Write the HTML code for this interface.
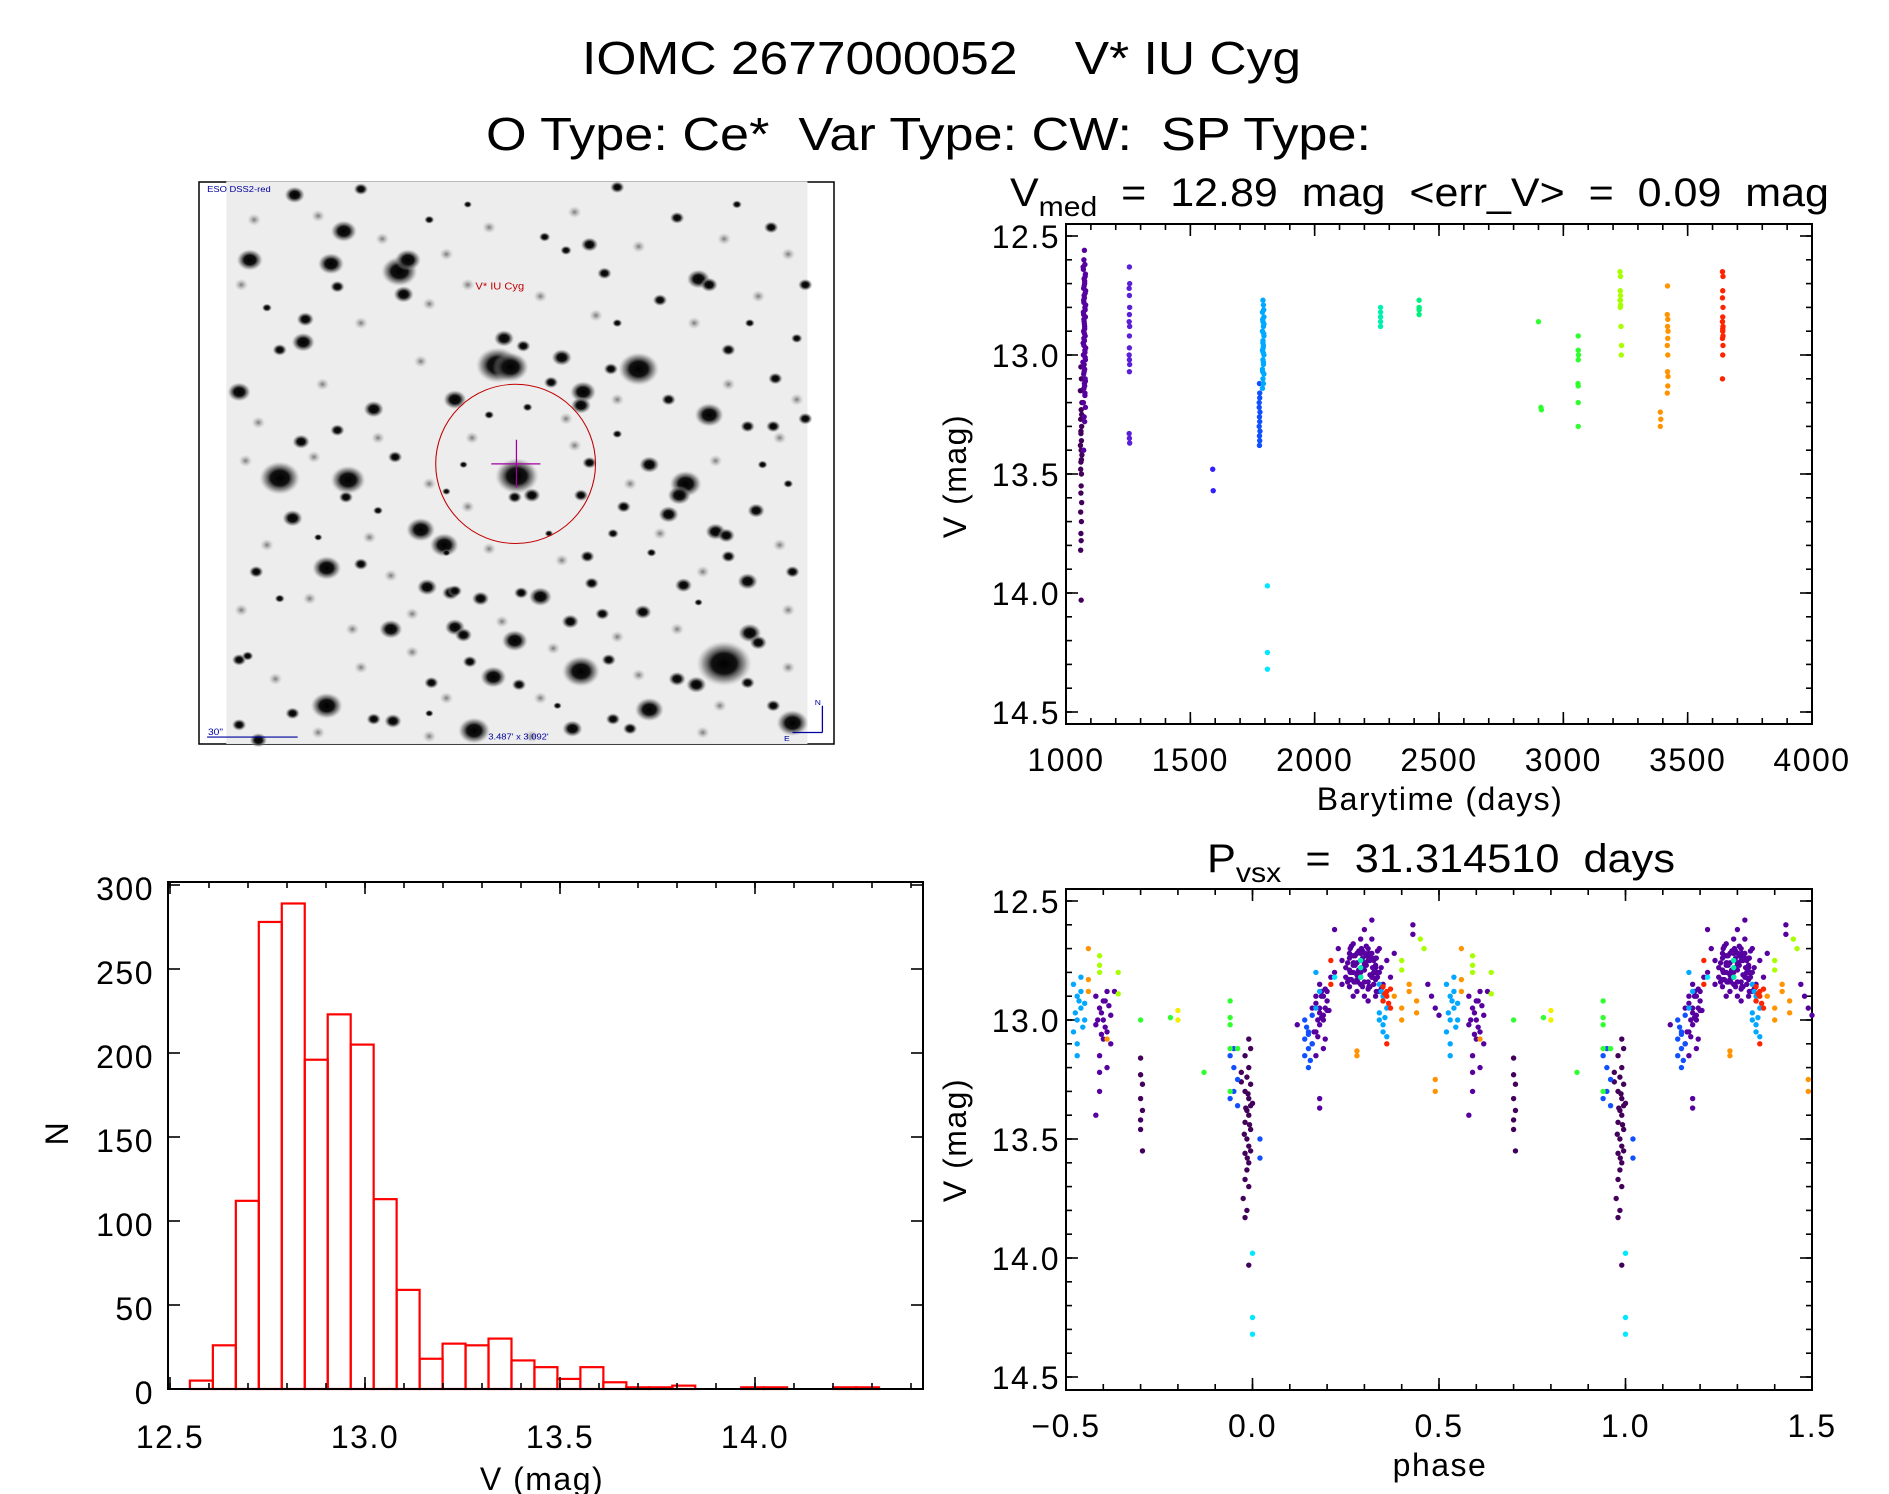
<!DOCTYPE html>
<html><head><meta charset="utf-8"><style>
html,body{margin:0;padding:0;background:#fff}
svg{display:block}
text{font-family:"Liberation Sans",sans-serif;fill:#000}
</style></head><body>
<svg id="root" width="1889" height="1494" viewBox="0 0 1889 1494" xmlns="http://www.w3.org/2000/svg">
<text x="582" y="74" font-size="46" textLength="719" lengthAdjust="spacingAndGlyphs" xml:space="preserve">IOMC 2677000052    V* IU Cyg</text>
<text x="486" y="150" font-size="46" textLength="885" lengthAdjust="spacingAndGlyphs" xml:space="preserve">O Type: Ce*  Var Type: CW:  SP Type:</text>

<g>
<rect x="199" y="182" width="635" height="562" fill="#fff" stroke="#000" stroke-width="1.5"/>
<svg x="190" y="170" width="670" height="600" viewBox="0 0 1568 1568" preserveAspectRatio="none" id="stars">
<defs><radialGradient id="sg"><stop offset="0" stop-color="#000"/><stop offset="0.45" stop-color="#111"/><stop offset="0.75" stop-color="#666" stop-opacity="0.6"/><stop offset="1" stop-color="#aaa" stop-opacity="0"/></radialGradient>
<radialGradient id="fg"><stop offset="0" stop-color="#777"/><stop offset="1" stop-color="#bbb" stop-opacity="0"/></radialGradient></defs>
<rect x="85" y="30" width="1360" height="1470" fill="#ededed"/>
<g id="faintgroup"></g>
<g id="stargroup"></g>
<ellipse cx="762" cy="768" rx="187" ry="208" fill="none" stroke="#c00000" stroke-width="2.5"/>
<line x1="705" y1="768" x2="820" y2="768" stroke="#a000a0" stroke-width="3"/>
<line x1="764" y1="705" x2="764" y2="830" stroke="#a000a0" stroke-width="3"/>
<text x="668" y="312" font-size="26" style="fill:#c00000">V* IU Cyg</text>
<text x="40" y="58" font-size="22" style="fill:#0000a0">ESO DSS2-red</text>
<text x="42" y="1476" font-size="24" style="fill:#0000a0">30"</text>
<line x1="40" y1="1482" x2="252" y2="1482" stroke="#0000a0" stroke-width="3"/>
<text x="698" y="1488" font-size="22" style="fill:#0000a0">3.487' x 3.092'</text>
<line x1="1480" y1="1400" x2="1480" y2="1470" stroke="#0000a0" stroke-width="3"/>
<line x1="1410" y1="1470" x2="1480" y2="1470" stroke="#0000a0" stroke-width="3"/>
<text x="1462" y="1398" font-size="20" style="fill:#0000a0">N</text>
<text x="1390" y="1492" font-size="20" style="fill:#0000a0">E</text>
</svg>
</g>
<g id="plots"></g>
</svg>
<script>
// ---- star field (decorative finder image) ----
const starList = [[245,65,14],[400,50,10],[1000,45,10],[360,160,18],[140,235,18],[330,245,18],[490,265,25],[510,235,18],[500,325,14],[345,305,10],[1190,285,16],[1215,300,12],[970,270,10],[935,195,12],[1140,125,10],[1360,150,10],[1100,340,10],[830,175,8],[880,210,8],[270,390,12],[265,450,16],[210,470,10],[735,440,14],[720,510,30],[750,515,25],[780,460,10],[870,490,14],[1050,520,28],[985,520,10],[1260,470,10],[115,580,16],[620,600,16],[920,580,18],[915,615,14],[430,625,14],[845,555,10],[1120,600,10],[1215,640,20],[1305,670,10],[1365,670,10],[1370,545,10],[260,710,12],[345,680,10],[210,805,28],[370,810,24],[365,855,10],[480,750,10],[765,800,30],[800,850,12],[760,855,10],[1075,770,14],[935,765,10],[1160,820,22],[1145,850,16],[1120,900,14],[1015,880,10],[915,850,10],[1325,890,12],[1230,945,14],[1255,955,12],[240,910,14],[540,940,20],[595,980,20],[320,1040,20],[400,1030,10],[155,1050,10],[1305,1075,14],[1260,1010,10],[930,1010,10],[990,950,8],[555,1090,14],[610,1105,12],[620,1100,10],[820,1115,16],[680,1120,12],[775,1105,10],[940,1080,10],[1155,1085,12],[1410,1050,10],[470,1200,16],[620,1195,14],[640,1215,12],[760,1230,18],[890,1180,12],[965,1160,10],[1060,1155,12],[1310,1210,16],[1330,1235,12],[1250,1290,38],[1185,1345,14],[1140,1330,12],[1305,1340,10],[710,1325,18],[915,1310,26],[980,1280,10],[655,1285,10],[770,1345,10],[320,1400,22],[240,1420,10],[115,1280,10],[475,1440,12],[430,1435,10],[665,1465,22],[895,1460,14],[1075,1410,20],[990,1435,10],[1410,1445,22],[1365,1400,10],[160,1490,12],[115,1450,10],[1030,1460,10],[565,1340,10],[135,1270,8],[1440,650,10],[1440,300,10],[1420,440,8],[180,360,7],[560,130,7],[650,90,6],[1280,90,7],[1310,400,7],[1400,820,7],[1340,770,7],[600,1000,6],[440,890,7],[300,960,6],[1080,1000,7],[1190,1130,6],[860,1400,6],[560,1420,6],[210,1120,7],[700,640,7],[790,620,7],[640,770,6],[1000,690,7],[600,840,6],[840,950,6],[1000,400,7]];
const faintList = [[150,130],[300,120],[450,180],[600,220],[700,150],[900,110],[1050,200],[1250,180],[1400,220],[120,300],[400,400],[560,350],[650,300],[820,330],[950,380],[1180,400],[1330,330],[160,660],[310,560],[540,500],[660,700],[880,650],[1000,600],[1260,560],[1420,600],[130,760],[290,750],[440,700],[560,820],[650,880],[900,720],[1030,820],[1230,760],[1380,700],[180,980],[420,960],[470,1060],[700,990],[870,1020],[1100,950],[1200,1050],[1380,980],[120,1150],[280,1120],[380,1200],[520,1160],[730,1180],[850,1250],[1000,1220],[1140,1200],[1400,1150],[200,1330],[400,1300],[520,1260],[600,1380],[820,1380],[1050,1320],[1240,1400],[1400,1300],[300,1470],[560,1480],[800,1480],[1200,1470]];
const sg = document.getElementById('stargroup');
const fg = document.getElementById('faintgroup');
const NS='http://www.w3.org/2000/svg';
faintList.forEach(s=>{const c=document.createElementNS(NS,'circle');c.setAttribute('cx',s[0]);c.setAttribute('cy',s[1]);c.setAttribute('r',16);c.setAttribute('fill','url(#fg)');


fg.appendChild(c);});
starList.forEach(s=>{const c=document.createElementNS(NS,'ellipse');c.setAttribute('cx',s[0]);c.setAttribute('cy',s[1]);c.setAttribute('rx',s[2]*1.7);c.setAttribute('ry',s[2]*1.55);c.setAttribute('fill','url(#sg)');


sg.appendChild(c);});

// ---- histogram data ----
const histStart = 12.551;
const histBinWidth = 0.0589;
const histCounts = [5,26,112,278,289,196,223,205,113,59,18,27,26,30,17,13,6,13,4,1,1,2,0,0,1,1,0,0,1,1];
const histXTicks = [12.5,13.0,13.5,14.0];
const histXTickLabels = ['12.5','13.0','13.5','14.0'];
const histYTicks = [0,50,100,150,200,250,300];

// ---- light curve (time) data ----
const colDarkPurple='#42005a', colPurple='#5600a0', colViolet='#5a20d8', colBlue='#1050ff', colLightBlue='#00a8ff', colCyan='#00e8ff', colTeal='#00f0b0', colGreen='#30ff30', colLime='#a8ff00', colYellow='#f0f000', colOrange='#ff9400', colRed='#ff2400';
const lcS1a_t=[1060,1062,1058,1064,1061,1059,1063,1060,1062,1058,1061,1064,1060,1059,1062,1061,1060,1063,1059,1062,1060,1061,1059,1061,1063,1060,1062];
const lcS1a_v=[13.05,13.1,13.15,13.2,13.23,13.27,13.3,13.33,13.36,13.38,13.4,13.42,13.45,13.48,13.5,13.55,13.58,13.62,13.66,13.7,13.75,13.78,13.82,14.03,13.25,13.32,13.44];
const lcS1b_t=[1074,1072,1076,1070,1078,1073,1075,1071,1077,1074,1072,1076,1070,1078,1073,1075,1071,1077,1074,1072,1076,1070,1078,1073,1075,1071,1077,1074,1072,1076,1070,1078,1073,1075,1071,1077,1074,1072,1076,1070,1078,1073,1075,1079,1068,1074,1072,1076,1069,1077,1073,1079,1071,1075,1069,1077,1073,1079,1071,1075];
const lcS1b_v=[12.56,12.6,12.62,12.64,12.66,12.68,12.7,12.72,12.74,12.76,12.78,12.8,12.82,12.84,12.86,12.88,12.9,12.92,12.94,12.96,12.98,13.0,13.02,13.04,13.06,13.08,13.1,13.12,13.14,13.17,13.2,13.22,13.26,13.28,13.4,12.81,12.87,12.93,12.99,13.05,13.11,12.75,12.69,12.97,13.03,12.91,12.85,13.16,12.63,12.67,12.71,12.79,12.83,12.89,12.95,13.01,13.07,12.73,12.77,13.13];
const lcS2_t=[1255,1256,1254,1255,1256,1255,1254,1256,1255,1254,1255,1256,1255,1254,1255,1256,1255];
const lcS2_v=[12.63,12.7,12.72,12.75,12.8,12.83,12.86,12.88,12.97,13.0,13.02,13.04,13.07,13.33,13.35,13.37,12.92];
const lcS3_t=[1590,1592];
const lcS3_v=[13.48,13.57];
const lcS4_t=[1778,1779,1777,1780,1778,1779,1777,1780,1778,1779,1778,1777,1779];
const lcS4_v=[13.12,13.16,13.2,13.24,13.26,13.28,13.3,13.32,13.34,13.36,13.38,13.22,13.18];
const lcS5_t=[1792,1794,1790,1796,1792,1794,1790,1796,1792,1794,1790,1796,1792,1794,1790,1796,1792,1794,1790,1796,1792,1794,1791,1795,1793,1791,1795,1793];
const lcS5_v=[12.77,12.79,12.82,12.84,12.86,12.88,12.9,12.92,12.94,12.96,12.98,13.0,13.02,13.04,13.06,13.08,13.1,13.12,13.14,12.87,12.95,13.03,12.85,12.91,12.99,13.07,12.81,12.97];
const lcS6_t=[1810,1810,1810];
const lcS6_v=[13.97,14.25,14.32];
const lcS7_t=[2265,2265,2265,2265,2265];
const lcS7_v=[12.8,12.82,12.84,12.86,12.88];
const lcS8_t=[2420,2420,2420,2420];
const lcS8_v=[12.77,12.8,12.81,12.83];
const lcS9_t=[2900,2910,2912,3060,3060,3061,3060,3059,3060,3060,3060];
const lcS9_v=[12.86,13.22,13.23,12.92,12.98,13.0,13.02,13.12,13.13,13.2,13.3];
const lcS10_t=[3228,3230,3229,3230,3228,3230,3229,3230,3232,3234,3233];
const lcS10_v=[12.65,12.67,12.73,12.75,12.77,12.79,12.8,12.77,12.88,12.96,13.0];
const lcS11_t=[3390,3392,3390,3418,3420,3419,3421,3420,3418,3420,3419,3421,3420,3418,3419];
const lcS11_v=[13.24,13.27,13.3,12.83,12.85,12.88,12.9,12.93,12.96,13.0,13.07,13.09,13.13,13.16,12.71];
const lcS12_t=[3640,3642,3641,3640,3642,3641,3640,3642,3641,3640,3642,3641,3640,3641,3642];
const lcS12_v=[12.65,12.67,12.73,12.76,12.8,12.84,12.86,12.88,12.9,12.93,12.96,13.0,13.1,12.89,12.92];
const lcXTicks=[1000,1500,2000,2500,3000,3500,4000];
const magTicks=[12.5,13.0,13.5,14.0,14.5];

// ---- phase data (phase in [-0.5,0.5), plotted at p and p+1) ----
const phDarkPurple_p=[-0.01,-0.005,-0.02,-0.01,-0.015,-0.005,-0.02,-0.01,-0.005,-0.015,-0.01,-0.02,-0.005,-0.015,-0.01,-0.02,-0.01,-0.015,-0.02,-0.01,-0.025,-0.015,-0.02,-0.01,-0.03,-0.03,0.0,-0.005,-0.3,-0.3,-0.295,-0.3,-0.295,-0.3,-0.3,-0.295,-0.012,-0.018,-0.008,-0.022,-0.014];
const phDarkPurple_v=[13.08,13.12,13.15,13.2,13.24,13.27,13.3,13.33,13.36,13.38,13.4,13.43,13.46,13.5,13.53,13.56,13.6,13.63,13.67,13.7,13.75,13.8,13.83,14.03,13.26,13.22,13.35,13.55,13.16,13.23,13.27,13.33,13.38,13.42,13.46,13.55,13.31,13.37,13.44,13.48,13.58];
const phPurple_p=[0.25,0.26,0.27,0.28,0.29,0.3,0.31,0.32,0.33,0.34,0.26,0.28,0.3,0.32,0.34,0.27,0.29,0.31,0.33,0.25,0.27,0.29,0.31,0.33,0.35,0.26,0.28,0.3,0.32,0.34,0.27,0.3,0.33,0.29,0.31,0.16,0.17,0.18,0.19,0.2,0.17,0.19,0.16,0.18,0.2,0.21,0.19,0.17,0.18,0.12,0.22,0.23,0.24,0.22,0.24,0.43,0.43,0.47,0.48,0.49,0.5,-0.42,-0.41,-0.4,-0.39,-0.38,-0.41,-0.4,-0.39,-0.42,-0.4,-0.38,-0.39,-0.41,-0.42,-0.41,-0.37,0.18,0.18,0.32,0.36,0.37,0.38,0.255,0.265,0.275,0.285,0.295,0.305,0.315,0.325,0.335,0.345,0.255,0.265,0.275,0.285,0.295,0.305,0.315,0.325,0.335,0.345,0.275,0.315,0.295,0.325,0.265,0.305,0.285,0.335,0.185,0.195,0.175,0.205,0.165,0.185,0.195,-0.405,-0.395,-0.415,-0.385,-0.405,-0.395,0.26,0.27,0.28,0.29,0.3,0.31,0.32,0.33,0.26,0.27,0.28,0.29,0.3,0.31,0.32,0.33,0.262,0.272,0.282,0.292,0.302,0.312,0.322,0.332,0.262,0.272,0.282,0.292,0.302,0.312,0.322,0.332,0.17,0.18,0.19,0.2,0.175,0.185,0.195];
const phPurple_v=[12.78,12.72,12.68,12.76,12.8,12.84,12.7,12.66,12.74,12.8,12.86,12.83,12.77,12.82,12.88,12.9,12.72,12.87,12.9,12.82,12.76,12.66,12.75,12.83,12.85,12.74,12.88,12.9,12.72,12.7,12.8,12.62,12.78,12.85,12.92,12.95,12.9,12.85,13.0,12.92,13.05,12.98,13.1,13.02,12.88,12.82,13.12,13.15,12.95,13.02,12.62,12.7,12.75,12.8,12.85,12.6,12.64,12.85,12.9,12.95,12.98,12.9,12.95,13.0,13.05,13.1,13.15,12.92,13.2,13.02,13.08,12.98,12.88,13.3,13.4,13.22,12.88,13.33,13.37,12.58,12.75,12.82,12.72,12.76,12.8,12.73,12.79,12.74,12.77,12.81,12.75,12.71,12.78,12.84,12.69,12.84,12.71,12.86,12.69,12.75,12.85,12.82,12.87,12.77,12.86,12.71,12.8,12.83,12.73,12.79,12.8,12.9,12.95,13.0,12.96,13.05,12.88,13.08,12.97,13.03,13.0,12.94,13.06,12.92,12.79,12.73,12.81,12.75,12.79,12.73,12.81,12.77,12.83,12.77,12.72,12.82,12.76,12.84,12.74,12.8,12.7,12.76,12.84,12.78,12.72,12.86,12.78,12.74,12.8,12.84,12.8,12.7,12.76,12.72,12.82,12.88,12.93,12.97,12.9,12.96,13.07,12.99,12.87];
const phBlue_p=[0.14,0.15,0.16,0.14,0.15,0.16,0.15,0.14,-0.06,-0.05,-0.04,-0.05,-0.06,-0.04,-0.05,0.02,0.02,0.145,0.155,0.15];
const phBlue_v=[13.0,13.05,13.1,13.15,13.2,12.98,13.12,13.08,13.15,13.2,13.25,13.3,13.33,13.36,13.12,13.5,13.58,13.03,13.17,13.06];
const phLightBlue_p=[0.34,0.35,0.36,0.34,0.35,0.36,0.35,0.34,0.35,-0.48,-0.47,-0.46,-0.45,-0.48,-0.47,-0.46,-0.45,-0.47,-0.46,-0.47,0.17,0.18,0.17,-0.465,-0.475,-0.455,0.345,0.355];
const phLightBlue_v=[12.85,12.9,12.95,13.0,13.05,13.07,12.92,12.97,13.02,12.85,12.9,12.95,13.0,13.05,13.1,12.88,12.93,13.15,12.82,13.0,12.8,12.88,12.95,12.92,12.97,13.03,12.88,12.99];
const phCyan_p=[0.0,0.0,0.0,0.22];
const phCyan_v=[13.98,14.25,14.32,12.82];
const phTeal_p=[0.29,0.29,0.29];
const phTeal_v=[12.75,12.78,12.82];
const phGreen_p=[-0.06,-0.06,-0.06,-0.06,-0.06,-0.13,-0.22,-0.04,-0.3];
const phGreen_v=[12.92,12.99,13.02,13.12,13.3,13.22,12.99,13.12,13.0];
const phLime_p=[-0.41,-0.41,-0.41,0.4,0.4,0.46,0.45,-0.36,-0.36];
const phLime_v=[12.73,12.77,12.8,12.75,12.79,12.7,12.66,12.8,12.89];
const phYellow_p=[-0.2,-0.2];
const phYellow_v=[12.96,13.0];
const phOrange_p=[-0.44,-0.44,-0.44,-0.39,0.28,0.28,0.38,0.4,0.42,0.44,0.4,0.42,0.44,0.49,0.49];
const phOrange_v=[12.7,12.83,12.88,13.08,13.13,13.15,12.9,12.95,12.88,12.92,13.0,12.85,12.97,13.25,13.3];
const phRed_p=[0.35,0.36,0.37,0.36,0.35,0.37,0.21,0.21,0.36,0.365,0.355];
const phRed_v=[12.86,12.9,12.95,12.88,12.92,12.87,12.75,12.85,13.1,12.93,12.89];
const phXTicks=[-0.5,0.0,0.5,1.0,1.5];
const phXTickLabels=['\u22120.5','0.0','0.5','1.0','1.5'];

// ---- drawing helpers ----
const plots=document.getElementById('plots');
function el(tag,attrs,parent){const e=document.createElementNS(NS,tag);for(const k in attrs)e.setAttribute(k,attrs[k]);(parent||plots).appendChild(e);return e;}
function scale(d0,d1,r0,r1){return v=>r0+(v-d0)/(d1-d0)*(r1-r0);}
function txt(x,y,s,size,anchor,name,rot){const t=el('text',{x:x,y:y,'font-size':size,'text-anchor':anchor||'middle','letter-spacing':1.5});t.textContent=s;


if(rot)t.setAttribute('transform','rotate(-90 '+x+' '+y+')');return t;}
function frame(L,T,R,B,name){const r=el('rect',{x:L,y:T,width:R-L,height:B-T,fill:'none',stroke:'#000','stroke-width':2});

}
function xTicks(sx,lo,hi,step,T,B,len){for(let v=lo;v<=hi+1e-9;v+=step){const x=sx(v);el('line',{x1:x,y1:B,x2:x,y2:B-len,stroke:'#000','stroke-width':1.6});el('line',{x1:x,y1:T,x2:x,y2:T+len,stroke:'#000','stroke-width':1.6});}}
function yTicks(sy,lo,hi,step,L,R,len){for(let v=lo;v<=hi+1e-9;v+=step){const y=sy(v);el('line',{x1:L,y1:y,x2:L+len,y2:y,stroke:'#000','stroke-width':1.6});el('line',{x1:R,y1:y,x2:R-len,y2:y,stroke:'#000','stroke-width':1.6});}}
function dots(sx,sy,ps,vs,color,name,xmin,xmax){ps.forEach((p,i)=>{const x=p;if(x<xmin-1e-9||x>xmax+1e-9)return;const c=el('circle',{cx:sx(x),cy:sy(vs[i]),r:2.7,fill:color});

});}

// ---- histogram ----
(function(){
 const L=168,R=923,T=882,B=1389;
 const sx=scale(12.5,14.0,170,755), sy=scale(0,300,1389,885);
 const g=el('g',{});
 
 
 histCounts.forEach((n,i)=>{const x0=sx(histStart+i*histBinWidth),x1=sx(histStart+(i+1)*histBinWidth);const r=el('rect',{x:x0,y:sy(n),width:x1-x0,height:Math.max(0,sy(0)-sy(n)),fill:'none',stroke:'#ff0000','stroke-width':2.2},g);
 
 });
 frame(L,T,R,B,'histogram-frame');
 xTicks(sx,12.5,14.4,0.1,T,B,6);xTicks(sx,12.5,14.0,0.5,T,B,12);
 yTicks(sy,0,300,50,L,R,12);
 histXTicks.forEach((v,i)=>txt(sx(v),1448,histXTickLabels[i],32,'middle','hist-x-tick-label'));
 histYTicks.forEach(v=>txt(154,sy(v)+15,String(v),32,'end','hist-y-tick-label'));
 txt(542,1490,'V (mag)',32,'middle','hist-x-axis-title');
 txt(68,1133,'N',32,'middle','hist-y-axis-title',true);
})();

// ---- light curve ----
(function(){
 const L=1066,R=1812,T=224,B=724;
 const sx=scale(1000,4000,L,R), sy=scale(12.5,14.5,236,712);
 const t=el('text',{x:1010,y:206,'font-size':40,textLength:819,lengthAdjust:'spacingAndGlyphs'});
 
 
 t.innerHTML='V<tspan font-size="28" dy="10">med</tspan><tspan dy="-10" xml:space="preserve">  =  12.89  mag  &lt;err_V&gt;  =  0.09  mag</tspan>';
 frame(L,T,R,B,'lc-frame');
 xTicks(sx,1000,4000,100,T,B,6);xTicks(sx,1000,4000,500,T,B,12);
 yTicks(sy,12.5,14.5,0.1,L,R,6);yTicks(sy,12.5,14.5,0.5,L,R,12);
 lcXTicks.forEach(v=>txt(sx(v),771,String(v),32,'middle','lc-x-tick-label'));
 magTicks.forEach(v=>txt(1060,sy(v)+12,v.toFixed(1),32,'end','lc-y-tick-label'));
 txt(1440,810,'Barytime (days)',32,'middle','lc-x-axis-title');
 txt(966,476,'V (mag)',32,'middle','lc-y-axis-title',true);
 const S=[[lcS1a_t,lcS1a_v,colDarkPurple],[lcS1b_t,lcS1b_v,colPurple],[lcS2_t,lcS2_v,colViolet],[lcS3_t,lcS3_v,'#3020ff'],[lcS4_t,lcS4_v,colBlue],[lcS5_t,lcS5_v,colLightBlue],[lcS6_t,lcS6_v,colCyan],[lcS7_t,lcS7_v,colTeal],[lcS8_t,lcS8_v,'#00f080'],[lcS9_t,lcS9_v,colGreen],[lcS10_t,lcS10_v,colLime],[lcS11_t,lcS11_v,colOrange],[lcS12_t,lcS12_v,colRed]];
 S.forEach(s=>dots(sx,sy,s[0],s[1],s[2],'lc-point',1000,4000));
})();

// ---- phase plot ----
(function(){
 const L=1066,R=1812,T=889,B=1390;
 const sx=scale(-0.5,1.5,L,R), sy=scale(12.5,14.5,901,1377);
 const t=el('text',{x:1207,y:872,'font-size':40,textLength:468,lengthAdjust:'spacingAndGlyphs'});
 
 
 t.innerHTML='P<tspan font-size="28" dy="10">vsx</tspan><tspan dy="-10" xml:space="preserve">  =  31.314510  days</tspan>';
 frame(L,T,R,B,'phase-frame');
 xTicks(sx,-0.5,1.5,0.1,T,B,6);xTicks(sx,-0.5,1.5,0.5,T,B,12);
 yTicks(sy,12.5,14.5,0.1,L,R,6);yTicks(sy,12.5,14.5,0.5,L,R,12);
 phXTicks.forEach((v,i)=>txt(sx(v),1437,phXTickLabels[i],32,'middle','phase-x-tick-label'));
 magTicks.forEach(v=>txt(1060,sy(v)+12,v.toFixed(1),32,'end','phase-y-tick-label'));
 txt(1440,1476,'phase',32,'middle','phase-x-axis-title');
 txt(966,1140,'V (mag)',32,'middle','phase-y-axis-title',true);
 const G=[[phDarkPurple_p,phDarkPurple_v,colDarkPurple],[phPurple_p,phPurple_v,colPurple],[phBlue_p,phBlue_v,colBlue],[phLightBlue_p,phLightBlue_v,colLightBlue],[phCyan_p,phCyan_v,colCyan],[phTeal_p,phTeal_v,colTeal],[phGreen_p,phGreen_v,colGreen],[phLime_p,phLime_v,colLime],[phYellow_p,phYellow_v,colYellow],[phOrange_p,phOrange_v,colOrange],[phRed_p,phRed_v,colRed]];
 G.forEach(g=>{dots(sx,sy,g[0],g[1],g[2],'phase-point',-0.5,1.5);dots(sx,sy,g[0].map(p=>p+1),g[1],g[2],'phase-point',-0.5,1.5);});
})();
</script>
</body></html>
